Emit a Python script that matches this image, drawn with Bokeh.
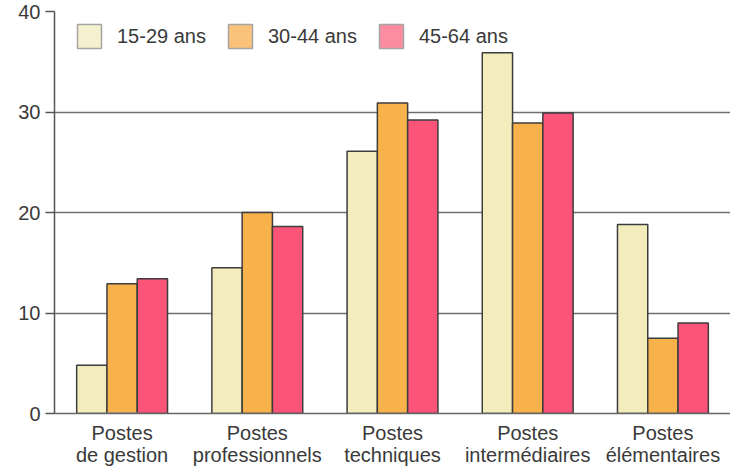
from bokeh.plotting import figure
from bokeh.models import ColumnDataSource, FactorRange, Range1d, Legend, LegendItem, FixedTicker
from bokeh.transform import dodge
from bokeh.embed import file_html
from bokeh.resources import INLINE

categories = ["Postes\nde gestion", "Postes\nprofessionnels", "Postes\ntechniques",
              "Postes\nintermédiaires", "Postes\nélémentaires"]
series_names = ["15-29 ans", "30-44 ans", "45-64 ans"]
v_15_29 = [4.8, 14.5, 26.1, 35.9, 18.8]
v_30_44 = [12.9, 20.0, 30.9, 28.9, 7.5]
v_45_64 = [13.4, 18.6, 29.2, 29.9, 9.0]
y_ticks = [0, 10, 20, 30, 40]

bar_colors = ["#F3EDBE", "#F8B24C", "#FB5479"]
legend_colors = ["#F5F1CF", "#FBC27A", "#FE8CA0"]
FONT = "Liberation Sans"
TXT = "#3a3a3a"

source = ColumnDataSource(dict(cat=categories, a=v_15_29, b=v_30_44, c=v_45_64))

p = figure(x_range=FactorRange(*categories, range_padding=0), y_range=Range1d(0, 40),
           width=730, height=468, output_backend="svg", toolbar_location=None,
           min_border_left=54, min_border_right=0, min_border_top=11, min_border_bottom=0)

w = 0.224
offsets = [-w, 0, w]
cols = ["a", "b", "c"]
for col, off, color in zip(cols, offsets, bar_colors):
    p.vbar(x=dodge("cat", off, range=p.x_range), top=col, width=w, source=source,
           fill_color=color, line_color="#3d3d3d", line_width=1.5)

# legend swatches: off-range bars (never visible inside the frame)
items = []
for name, color in zip(series_names, legend_colors):
    r = p.vbar(x=[categories[0]], top=[-1], bottom=[-2], width=w,
               fill_color=color, line_color="#a5a5a5", line_width=1.5)
    items.append(LegendItem(label=name, renderers=[r]))

legend = Legend(items=items, orientation="horizontal", location=(20, 362),
                glyph_width=30, glyph_height=30, label_standoff=13, spacing=19,
                padding=0, margin=0, background_fill_alpha=0, border_line_alpha=0,
                label_text_font=FONT, label_text_font_size="20px", label_text_color=TXT)
p.add_layout(legend, "center")

p.outline_line_color = None
p.xgrid.grid_line_color = None
p.ygrid.grid_line_color = "#6f6f6f"
p.ygrid.grid_line_width = 1.5
p.yaxis.ticker = FixedTicker(ticks=y_ticks)
p.yaxis.minor_tick_line_color = None
p.yaxis.major_tick_out = 9
p.yaxis.major_tick_in = 0
p.yaxis.major_tick_line_color = "#555555"
p.yaxis.major_tick_line_width = 1.5
p.yaxis.axis_line_color = "#555555"
p.yaxis.axis_line_width = 1.5
p.yaxis.major_label_standoff = 5
p.xaxis.major_tick_line_color = None
p.xaxis.minor_tick_line_color = None
p.xaxis.axis_line_color = "#666666"
p.xaxis.axis_line_width = 1.5
p.xaxis.major_label_standoff = 2
p.xaxis.major_label_text_line_height = 1.0
for ax in (p.xaxis, p.yaxis):
    ax.major_label_text_font = FONT
    ax.major_label_text_font_size = "20px"
    ax.major_label_text_color = TXT

open("out.html", "w").write(file_html(p, INLINE))
